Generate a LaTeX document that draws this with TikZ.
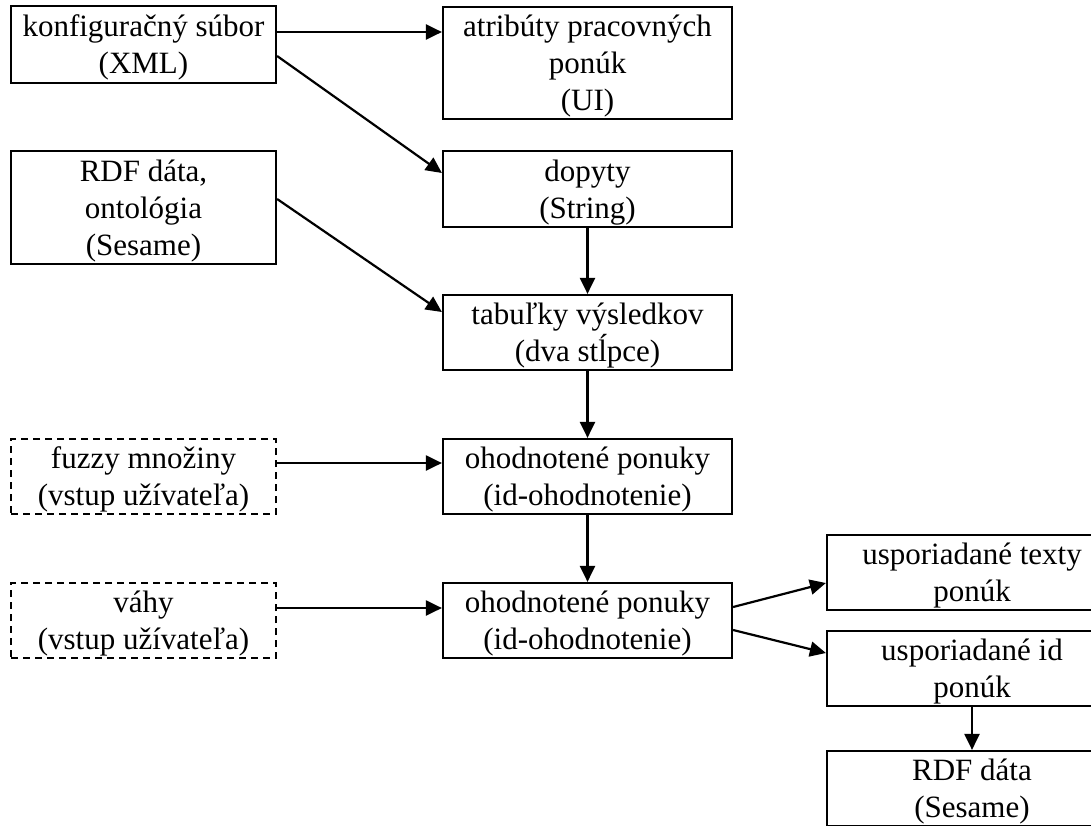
\documentclass[tikz,border=0pt]{standalone}
\usepackage{fontspec}
\setmainfont{Liberation Serif}
\usetikzlibrary{arrows.meta}
\begin{document}
\begin{tikzpicture}[x=1pt,y=-1pt,
  % a reduced text depth sets the text a little lower in its box
  box/.style={draw, line width=2.2pt, align=center, inner sep=0pt,
    font=\fontsize{31}{37}\selectfont, text depth=-1.3pt},
  leftbox/.style={box, minimum width=265pt},
  midbox/.style={box, minimum width=289pt},
  rightbox/.style={box, minimum width=290pt},
  userbox/.style={leftbox, dash pattern=on 7pt off 5pt},
  flow/.style={line width=2.2pt, -{Triangle[length=16pt,width=15pt]}}]
\useasboundingbox (0,0) rectangle (1091,825);

% sources on the left
\node[leftbox, minimum height=77pt]  (konfig) at (143.5,44.5)  {konfiguračný súbor\\(XML)};
\node[leftbox, minimum height=113pt] (rdfin)  at (143.5,207.5) {RDF dáta,\\ontológia\\(Sesame)};
\node[userbox, minimum height=75pt]  (fuzzy)  at (143.5,476.5) {fuzzy množiny\\(vstup užívateľa)};
\node[userbox, minimum height=75pt]  (vahy)   at (143.5,620.5) {váhy\\(vstup užívateľa)};

% processing chain in the middle
\node[midbox, minimum height=112pt] (atrib)  at (587.5,63)    {atribúty pracovných\\ponúk\\(UI)};
\node[midbox, minimum height=76pt]  (dopyty) at (587.5,189)   {dopyty\\(String)};
\node[midbox, minimum height=75pt]  (tab)    at (587.5,332.5) {tabuľky výsledkov\\(dva stĺpce)};
\node[midbox, minimum height=75pt]  (ohod1)  at (587.5,476.5) {ohodnotené ponuky\\(id-ohodnotenie)};
\node[midbox, minimum height=75pt]  (ohod2)  at (587.5,620.5) {ohodnotené ponuky\\(id-ohodnotenie)};

% results on the right
\node[rightbox, minimum height=75pt] (usptext) at (972,572.5) {usporiadané texty\\ponúk};
\node[rightbox, minimum height=75pt] (uspid)   at (972,668.5) {usporiadané id\\ponúk};
\node[rightbox, minimum height=75pt] (rdfout)  at (972,788.5) {RDF dáta\\(Sesame)};

% connectors
\coordinate (konfigout) at ([yshift=12.5pt]konfig.east);
\draw[flow] (konfigout) -- (atrib.west |- konfigout);
\draw[flow] ([yshift=-11.5pt]konfig.east) -- ([yshift=16pt]dopyty.west);
\draw[flow] ([yshift=8.5pt]rdfin.east) -- ([yshift=20.5pt]tab.west);
\draw[flow] (dopyty) -- (tab);
\draw[flow] (tab) -- (ohod1);
\draw[flow] ([yshift=13.5pt]fuzzy.east) -- ([yshift=13.5pt]ohod1.west);
\draw[flow] (ohod1) -- (ohod2);
\draw[flow] ([yshift=12.5pt]vahy.east) -- ([yshift=12.5pt]ohod2.west);
\draw[flow] ([yshift=13.5pt]ohod2.east) -- ([yshift=-10.5pt]usptext.west);
\draw[flow] ([yshift=-9.5pt]ohod2.east) -- ([yshift=15.5pt]uspid.west);
\draw[flow] (uspid) -- (rdfout);
\end{tikzpicture}
\end{document}
